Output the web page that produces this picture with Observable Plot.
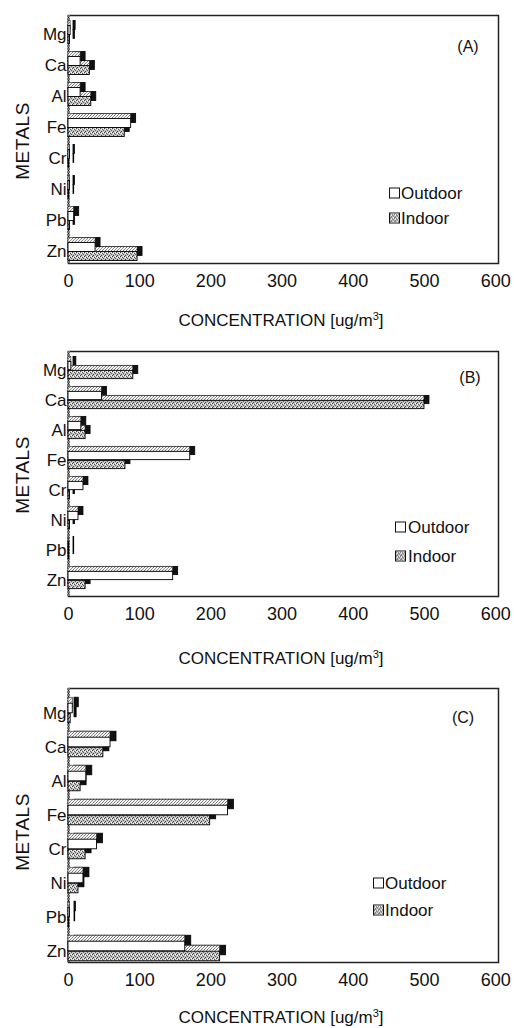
<!DOCTYPE html>
<html>
<head>
<meta charset="utf-8">
<script src="https://cdn.jsdelivr.net/npm/d3@7"></script>
<script src="https://cdn.jsdelivr.net/npm/@observablehq/plot@0.6"></script>
<style>
  html, body { margin: 0; padding: 0; background: #fff; }
  body { font-family: "Liberation Sans", Arial, sans-serif; color: #111; }
  #root { position: relative; width: 514px; height: 1028px; overflow: hidden; }
  #root svg.plot { position: absolute; left: 0; }
  .lbl { position: absolute; white-space: nowrap; transform: translate(-50%, -50%); line-height: 1; }
  .metals { font-size: 19px; transform: translate(-50%, -50%) rotate(-90deg); letter-spacing: 0.5px; }
  .xtitle { font-size: 17px; }
  .xtitle sup { font-size: 11px; }
  .plab { font-size: 16px; }
  .leg { position: absolute; font-size: 17px; line-height: 1; white-space: nowrap; transform: translateY(-50%); }
  .box { position: absolute; width: 9px; height: 9px; border: 1px solid #111; transform: translateY(-50%); }
</style>
</head>
<body>
<svg width="0" height="0" style="position:absolute">
  <defs>
    <pattern id="indoorPat" width="4" height="4" patternUnits="userSpaceOnUse">
      <rect width="4" height="4" fill="#c4c4c4"/>
      <rect x="0" y="0" width="1" height="1" fill="#444"/>
      <rect x="2" y="1" width="1" height="1" fill="#555"/>
      <rect x="1" y="3" width="1" height="1" fill="#444"/>
      <rect x="3" y="2" width="1" height="1" fill="#666"/>
      <rect x="3" y="0" width="1" height="1" fill="#fff"/>
      <rect x="1" y="1" width="1" height="1" fill="#fff"/>
    </pattern>
    <pattern id="topPat" width="3" height="3" patternUnits="userSpaceOnUse">
      <rect width="3" height="3" fill="#f2f2f2"/>
      <rect x="0" y="0" width="1" height="1" fill="#777"/>
      <rect x="2" y="1" width="1" height="1" fill="#999"/>
      <rect x="1" y="2" width="1" height="1" fill="#888"/>
    </pattern>
  </defs>
</svg>
<div id="root"></div>
<script>
// ---- data ----
const metals = ["Mg", "Ca", "Al", "Fe", "Cr", "Ni", "Pb", "Zn"];
const xTicks = [0, 100, 200, 300, 400, 500, 600];
const seriesNames = ["Outdoor", "Indoor"];
const panelLabels = ["(A)", "(B)", "(C)"];
const axisTitle = "CONCENTRATION [ug/m";
const yTitle = "METALS";

const outdoorA = [3, 17, 17, 88, 2, 2, 8, 38];
const indoorA  = [2, 30, 32, 79, 1, 1, 2, 97];
const outdoorB = [4, 47, 18, 171, 21, 14, 1, 147];
const indoorB  = [91, 500, 24, 80, 2, 2, 1, 24];
const outdoorC = [6, 59, 25, 224, 40, 21, 2, 164];
const indoorC  = [3, 49, 17, 199, 24, 14, 1, 213];

// ---- layout (styles) ----
const panels = [
  {top: 0,   height: 335, mt: 15, mb: 72, yRange: [18.5, 266.5], barH: 9,  d: 5,
   out: outdoorA, ind: indoorA, label: panelLabels[0],
   labPos: [468, 47], legBox: 389, legText: 401, legY: [193, 218], metalsY: 141, titleY: 320},
  {top: 335, height: 335, mt: 16, mb: 74, yRange: [17.6, 263.4], barH: 9,  d: 5,
   out: outdoorB, ind: indoorB, label: panelLabels[1],
   labPos: [470, 378], legBox: 395, legText: 408, legY: [527, 556], metalsY: 475, titleY: 658},
  {top: 670, height: 358, mt: 18, mb: 66, yRange: [24.8, 300.2], barH: 10, d: 6,
   out: outdoorC, ind: indoorC, label: panelLabels[2],
   labPos: [463, 718], legBox: 373, legText: 385, legY: [883, 910], metalsY: 832, titleY: 1017}
];

const root = document.getElementById("root");

function addDiv(cls, html, x, y) {
  const el = document.createElement("div");
  el.className = cls;
  el.innerHTML = html;
  el.style.left = x + "px";
  el.style.top = y + "px";
  root.appendChild(el);
  return el;
}

for (const p of panels) {
  const dOut = metals.map((m, i) => ({metal: m, value: p.out[i]}));
  const dIn = metals.map((m, i) => ({metal: m, value: p.ind[i]}));
  const step = (p.yRange[1] - p.yRange[0]) / metals.length;
  const half = step / 2;
  const bh = p.barH, d = p.d;
  const outIns = {insetTop: half - bh, insetBottom: half};
  const inIns = {insetTop: half, insetBottom: half - bh};
  const layers = (data, ins, frontFill) => [
    Plot.barX(data, {x: "value", y: "metal", ...ins, dx: d, dy: -d, fill: "#111", stroke: "#000", strokeWidth: 0.8}),
    Plot.barX(data, {x: "value", y: "metal", ...ins, dy: -d, fill: "url(#topPat)", stroke: "#222", strokeWidth: 0.6}),
    Plot.barX(data, {x: "value", y: "metal", ...ins, fill: frontFill, stroke: "#000", strokeWidth: 0.9})
  ];
  const svg = Plot.plot({
    width: 514,
    height: p.height,
    marginLeft: 68,
    marginRight: 16,
    marginTop: p.mt,
    marginBottom: p.mb,
    style: {fontFamily: "'Liberation Sans', Arial, sans-serif", background: "transparent", color: "#111"},
    x: {domain: [0, 604]},
    y: {domain: metals, range: p.yRange, padding: 0},
    marks: [
      Plot.frame({stroke: "#222", strokeWidth: 1.5}),
      Plot.ruleX([0], {stroke: "#777", strokeWidth: 3, strokeDasharray: "2,1"}),
      ...layers(dIn, inIns, "url(#indoorPat)"),
      ...layers(dOut, outIns, "#ffffff"),
      Plot.axisX({ticks: xTicks, tickFormat: (v) => String(v), tickSize: 0, tickPadding: 11, fontSize: 18, label: null}),
      Plot.axisY({tickSize: 0, tickPadding: 2, fontSize: 17, label: null})
    ]
  });
  svg.classList.add("plot");
  svg.style.top = p.top + "px";
  root.appendChild(svg);

  // overlays: titles, panel letter, legend
  addDiv("lbl metals", yTitle, 22, p.metalsY);
  addDiv("lbl xtitle", axisTitle + "<sup>3</sup>]", 281, p.titleY);
  addDiv("lbl plab", p.label, p.labPos[0], p.labPos[1]);
  const b1 = addDiv("box", "", p.legBox, p.legY[0]);
  b1.style.background = "#fff";
  addDiv("leg", seriesNames[0], p.legText, p.legY[0]);
  const b2 = addDiv("box", "", p.legBox, p.legY[1]);
  b2.innerHTML = '<svg width="9" height="9" style="display:block"><rect width="9" height="9" fill="url(#indoorPat)"/></svg>';
  addDiv("leg", seriesNames[1], p.legText, p.legY[1]);
}
</script>
</body>
</html>
